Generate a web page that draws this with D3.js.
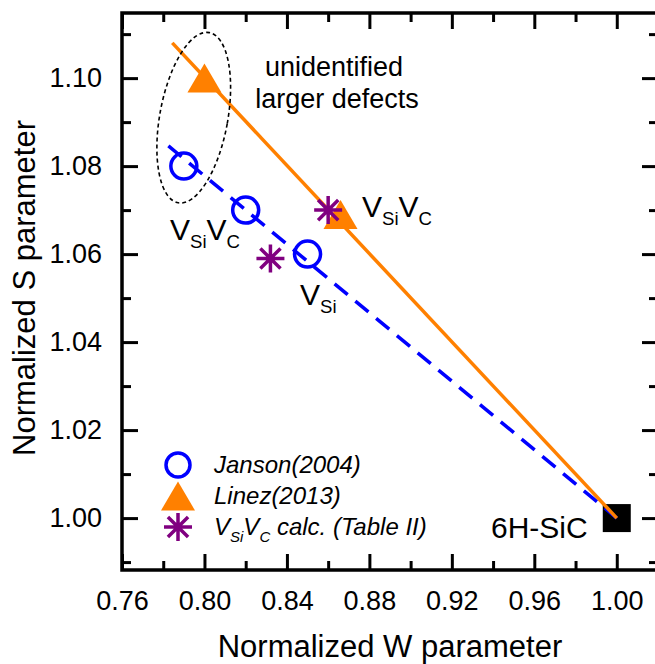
<!DOCTYPE html>
<html>
<head>
<meta charset="utf-8">
<script src="https://cdn.jsdelivr.net/npm/d3@7"></script>
<style>
  html, body { margin: 0; padding: 0; background: #fff; }
  svg text { font-family: "Liberation Sans", Arial, sans-serif; fill: #000; }
</style>
</head>
<body>
<div id="chart"></div>
<script>
(function() {
  'use strict';

  // --- data ---
  const janW = [0.79, 0.82, 0.85];
  const janS = [1.08, 1.07, 1.06];
  const linW = [0.80, 0.866];
  const linS = [1.10, 1.069];
  const calcW = [0.832, 0.860];
  const calcS = [1.059, 1.070];
  const refW = [1.00];
  const refS = [1.00];
  // fitted guide lines (end points)
  const janFitW = [0.7825, 1.00];
  const janFitS = [1.0846, 1.00];
  const linFitW = [0.7844, 1.00];
  const linFitS = [1.108, 1.00];

  const xMajor = [0.76, 0.80, 0.84, 0.88, 0.92, 0.96, 1.00];
  const xMinor = [0.78, 0.82, 0.86, 0.90, 0.94, 0.98];
  const yMajor = [1.00, 1.02, 1.04, 1.06, 1.08, 1.10];
  const yMinor = [0.99, 1.01, 1.03, 1.05, 1.07, 1.09, 1.11];

  const legendItems = ['Janson(2004)', 'Linez(2013)', 'calc'];

  const BLUE = '#0000ff', ORANGE = '#ff8000', PURPLE = '#800080';

  const W = 655, H = 664;
  const left = 122, right = 658, top = 13, bottom = 570;

  const svg = d3.select('#chart').append('svg')
    .attr('width', W).attr('height', H);

  const x = d3.scaleLinear().domain([0.76, 1.02]).range([left, right]);
  const y = d3.scaleLinear().domain([0.9882, 1.1148]).range([bottom, top]);

  const fmt = d3.format('.2f');

  // Axes (ticks inward on all sides)
  function styleAxis(g) {
    g.select('.domain').remove();
    g.selectAll('line').attr('stroke', '#000').attr('stroke-width', 3);
    g.selectAll('text').attr('font-size', 27).attr('fill', '#000')
      .attr('font-family', '"Liberation Sans", Arial, sans-serif');
  }

  svg.append('g').attr('transform', `translate(0,${bottom})`)
    .call(d3.axisBottom(x).tickValues(xMajor).tickSize(-16).tickPadding(21).tickFormat(fmt))
    .call(styleAxis);
  svg.append('g').attr('transform', `translate(0,${bottom})`)
    .call(d3.axisBottom(x).tickValues(xMinor).tickSize(-9).tickFormat(''))
    .call(styleAxis);
  svg.append('g').attr('transform', `translate(0,${top})`)
    .call(d3.axisTop(x).tickValues(xMajor).tickSize(-16).tickFormat(''))
    .call(styleAxis);
  svg.append('g').attr('transform', `translate(0,${top})`)
    .call(d3.axisTop(x).tickValues(xMinor).tickSize(-9).tickFormat(''))
    .call(styleAxis);

  svg.append('g').attr('transform', `translate(${left},0)`)
    .call(d3.axisLeft(y).tickValues(yMajor).tickSize(-16).tickPadding(20).tickFormat(fmt))
    .call(styleAxis);
  svg.append('g').attr('transform', `translate(${left},0)`)
    .call(d3.axisLeft(y).tickValues(yMinor).tickSize(-9).tickFormat(''))
    .call(styleAxis);
  svg.append('g').attr('transform', `translate(${right},0)`)
    .call(d3.axisRight(y).tickValues(yMajor).tickSize(-16).tickFormat(''))
    .call(styleAxis);
  svg.append('g').attr('transform', `translate(${right},0)`)
    .call(d3.axisRight(y).tickValues(yMinor).tickSize(-9).tickFormat(''))
    .call(styleAxis);

  // frame
  svg.append('rect')
    .attr('x', left).attr('y', top)
    .attr('width', right - left).attr('height', bottom - top)
    .attr('fill', 'none').attr('stroke', '#000').attr('stroke-width', 3.5);

  // axis titles
  svg.append('text')
    .attr('x', 390).attr('y', 657)
    .attr('text-anchor', 'middle').attr('font-size', 31)
    .text('Normalized W parameter');
  svg.append('text')
    .attr('transform', 'translate(35,288) rotate(-90)')
    .attr('text-anchor', 'middle').attr('font-size', 31)
    .text('Normalized S parameter');

  // 6H-SiC reference square
  svg.append('g').selectAll('rect')
    .data(refW.map((w, i) => [w, refS[i]]))
    .join('rect')
    .attr('x', d => x(d[0]) - 14).attr('y', d => y(d[1]) - 14)
    .attr('width', 28).attr('height', 28)
    .attr('fill', '#000');

  // guide lines
  const line = d3.line().x(d => x(d[0])).y(d => y(d[1]));
  svg.append('path')
    .datum(janFitW.map((w, i) => [w, janFitS[i]]))
    .attr('d', line)
    .attr('fill', 'none').attr('stroke', BLUE).attr('stroke-width', 3.5)
    .attr('stroke-dasharray', '17,10');
  svg.append('path')
    .datum(linFitW.map((w, i) => [w, linFitS[i]]))
    .attr('d', line)
    .attr('fill', 'none').attr('stroke', ORANGE).attr('stroke-width', 3.5);

  // marker shapes
  const triPath = 'M0,-14.5L17,14.5L-17,14.5Z';
  function asterisk(g, size) {
    const h = size / 2, d = h * 0.72;
    const p = `M${-h},0L${h},0M0,${-h}L0,${h}M${-d},${-d}L${d},${d}M${-d},${d}L${d},${-d}`;
    g.append('path').attr('d', p)
      .attr('stroke', PURPLE).attr('stroke-width', 3.5).attr('fill', 'none');
  }

  // Janson circles
  svg.append('g').selectAll('circle')
    .data(janW.map((w, i) => [w, janS[i]]))
    .join('circle')
    .attr('cx', d => x(d[0])).attr('cy', d => y(d[1]))
    .attr('r', 13)
    .attr('fill', 'none').attr('stroke', BLUE).attr('stroke-width', 3.5);

  // Linez triangles
  svg.append('g').selectAll('path')
    .data(linW.map((w, i) => [w, linS[i]]))
    .join('path')
    .attr('transform', d => `translate(${x(d[0])},${y(d[1])})`)
    .attr('d', triPath)
    .attr('fill', ORANGE);

  // calc asterisks
  svg.append('g').selectAll('g')
    .data(calcW.map((w, i) => [w, calcS[i]]))
    .join('g')
    .attr('transform', d => `translate(${x(d[0])},${y(d[1])})`)
    .each(function() { asterisk(d3.select(this), 28); });

  // ellipse around the big-defect point
  svg.append('ellipse')
    .attr('transform', `translate(${x(0.7948)},${y(1.091)}) rotate(10.3)`)
    .attr('rx', 34).attr('ry', 86.5)
    .attr('fill', 'none').attr('stroke', '#000').attr('stroke-width', 1.6)
    .attr('stroke-dasharray', '4,3');

  // annotations
  function vLabel(px, py, parts, size) {
    const t = svg.append('text').attr('x', px).attr('y', py).attr('font-size', size);
    parts.forEach(p => {
      t.append('tspan')
        .attr('font-size', p.sub ? size * 0.62 : size)
        .attr('dy', p.sub ? size * 0.27 : (p.back ? -size * 0.27 : 0))
        .text(p.t);
    });
    return t;
  }
  const vsivc = [{ t: 'V' }, { t: 'Si', sub: true }, { t: 'V', back: true }, { t: 'C', sub: true }];
  vLabel(170, 240, vsivc, 30);
  vLabel(362, 217, vsivc, 30);
  vLabel(300, 305, [{ t: 'V' }, { t: 'Si', sub: true }], 30);

  svg.append('text').attr('x', 491).attr('y', 538).attr('font-size', 30).text('6H-SiC');

  svg.append('text').attr('x', 334).attr('y', 76).attr('text-anchor', 'middle')
    .attr('font-size', 27).text('unidentified');
  svg.append('text').attr('x', 337).attr('y', 108).attr('text-anchor', 'middle')
    .attr('font-size', 27).text('larger defects');

  // legend
  const legY = [465, 496, 527];
  const legX = 178, legTextX = 214;
  legendItems.forEach((name, i) => {
    const gy = legY[i];
    const g = svg.append('g').attr('transform', `translate(${legX},${gy})`);
    if (i === 0) {
      g.append('circle').attr('r', 12).attr('fill', 'none')
        .attr('stroke', BLUE).attr('stroke-width', 3.5);
    } else if (i === 1) {
      g.append('path').attr('d', triPath).attr('fill', ORANGE);
    } else {
      asterisk(g, 28);
    }
    const t = svg.append('text').attr('x', legTextX).attr('y', gy + 8)
      .attr('font-size', 24).attr('font-style', 'italic');
    if (i < 2) {
      t.text(name);
    } else {
      t.append('tspan').text('V');
      t.append('tspan').attr('font-size', 15).attr('dy', 7).text('Si');
      t.append('tspan').attr('dy', -7).text('V');
      t.append('tspan').attr('font-size', 15).attr('dy', 7).text('C');
      t.append('tspan').attr('dy', -7).text(' calc. (Table II)');
    }
  });
})();
</script>
</body>
</html>
